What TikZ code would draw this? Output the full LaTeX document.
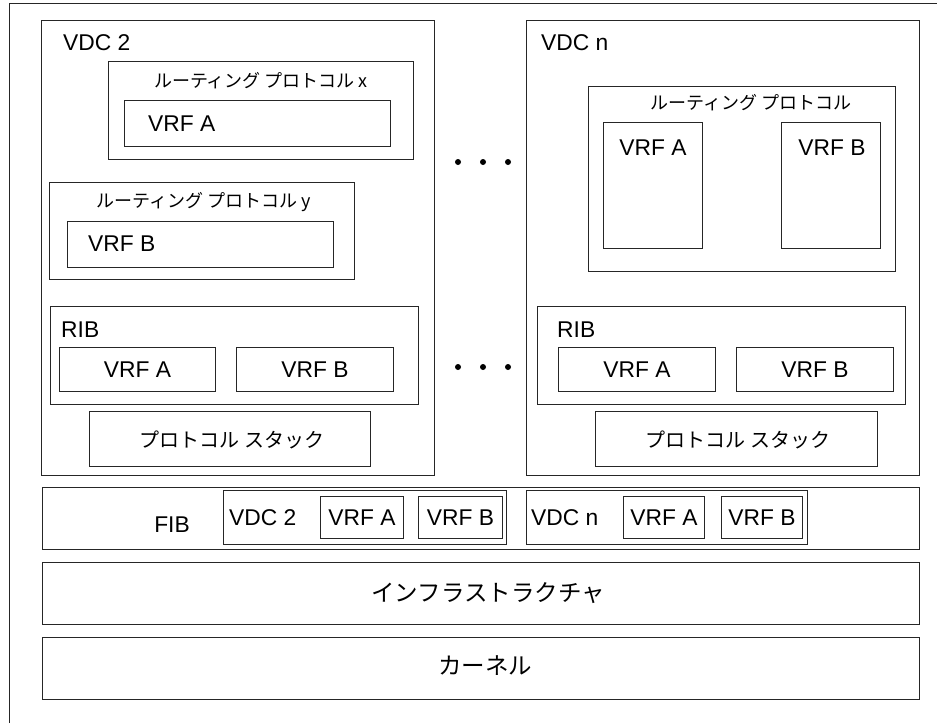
\documentclass[tikz,border=0pt]{standalone}
\usepackage{fontspec}
\setmainfont{Liberation Sans}
\newfontfamily\jp{Noto Sans CJK JP}
\newcommand\lat{\fontsize{22.8}{26}\selectfont}
\newcommand\jps{\jp\fontsize{18}{22}\selectfont}
\newcommand\jpm{\jp\fontsize{20}{24}\selectfont}
\newcommand\jpl{\jp\fontsize{23.5}{27}\selectfont}
\newcommand\mybox[6]{\node[box,minimum width={(#4-#2)*1pt},minimum height={(#5-#3)*1pt}] (#1) at (#2,#3) {#6};}
\begin{document}
\begin{tikzpicture}[x=1pt,y=-1pt,
  box/.style={draw=black!85,line width=1pt,inner sep=0pt,anchor=north west,font=\lat},
  txt/.style={inner sep=0pt,font=\lat},
  jtxt/.style={inner sep=0pt,font=\jps},
  dot/.style={circle,fill=black,inner sep=0pt,minimum size=6pt}]
\useasboundingbox (0,0) rectangle (937,723);
\coordinate (fa) at (9,723); \coordinate (fb) at (9,3); \coordinate (fc) at (937,3);
\draw[black!85,line width=1pt] (fa) -- (fb) -- (fc);

% VDC 2
\mybox{vdcii}{41}{20}{434}{475}{}
\node[txt,anchor=base west] (vdciilab) at (63,50) {VDC 2};
\mybox{rpx}{108}{61}{413}{159}{}
\node[jtxt] (rpxlab) at (261,81) {ルーティング プロトコル x};
\mybox{rpxa}{124}{100}{390}{146}{}
\node[txt,anchor=base west] (rpxalab) at (148,131) {VRF A};
\mybox{rpy}{49}{182}{354}{279}{}
\node[jtxt] (rpylab) at (204,202) {ルーティング プロトコル y};
\mybox{rpyb}{67}{221}{333}{267}{}
\node[txt,anchor=base west] (rpyblab) at (88,251) {VRF B};
\mybox{ribii}{50}{306}{418}{404}{}
\node[txt,anchor=base west] (ribiilab) at (61,337) {RIB};
\mybox{ribiia}{59}{347}{215}{391}{VRF A}
\mybox{ribiib}{236}{347}{393}{391}{VRF B}
\mybox{psii}{89}{411}{370}{466}{}
\node[inner sep=0pt,font=\jpm] (psiilab) at (232,440) {プロトコル スタック};

% VDC n
\mybox{vdcn}{526}{20}{919}{475}{}
\node[txt,anchor=base west] (vdcnlab) at (541,50) {VDC n};
\mybox{rpn}{588}{86}{895}{271}{}
\node[jtxt] (rpnlab) at (751,103) {ルーティング プロトコル};
\mybox{rpna}{603}{122}{702}{248}{}
\node[txt,anchor=base] (rpnalab) at (653,155) {VRF A};
\mybox{rpnb}{781}{122}{880}{248}{}
\node[txt,anchor=base] (rpnblab) at (832,155) {VRF B};
\mybox{ribn}{537}{306}{905}{404}{}
\node[txt,anchor=base west] (ribnlab) at (557,337) {RIB};
\mybox{ribna}{558}{347}{715}{391}{VRF A}
\mybox{ribnb}{736}{347}{893}{391}{VRF B}
\mybox{psn}{595}{411}{877}{466}{}
\node[inner sep=0pt,font=\jpm] (psnlab) at (738,440) {プロトコル スタック};

% dots
\node[dot] (d1) at (458,162) {};
\node[dot] (d2) at (483,162) {};
\node[dot] (d3) at (508,162) {};
\node[dot] (d4) at (458,367) {};
\node[dot] (d5) at (483,367) {};
\node[dot] (d6) at (508,367) {};

% FIB
\mybox{fib}{42}{487}{919}{549}{}
\node[txt,anchor=base] (fiblab) at (172,532) {FIB};
\mybox{fibii}{223}{490}{506}{544}{}
\node[txt,anchor=base west] (fibiilab) at (229,525) {VDC 2};
\mybox{fibiia}{320}{496}{403}{538}{VRF A}
\mybox{fibiib}{418}{496}{502}{538}{VRF B}
\mybox{fibn}{526}{490}{807}{544}{}
\node[txt,anchor=base west] (fibnlab) at (531,525) {VDC n};
\mybox{fibna}{623}{496}{704}{538}{VRF A}
\mybox{fibnb}{721}{496}{802}{538}{VRF B}

% infrastructure, kernel
\mybox{infra}{42}{562}{919}{624}{}
\node[inner sep=0pt,font=\jpl] (infralab) at (488,593) {インフラストラクチャ};
\mybox{kern}{42}{637}{919}{699}{}
\node[inner sep=0pt,font=\jpl] (kernlab) at (485,666) {カーネル};
\end{tikzpicture}
\end{document}
